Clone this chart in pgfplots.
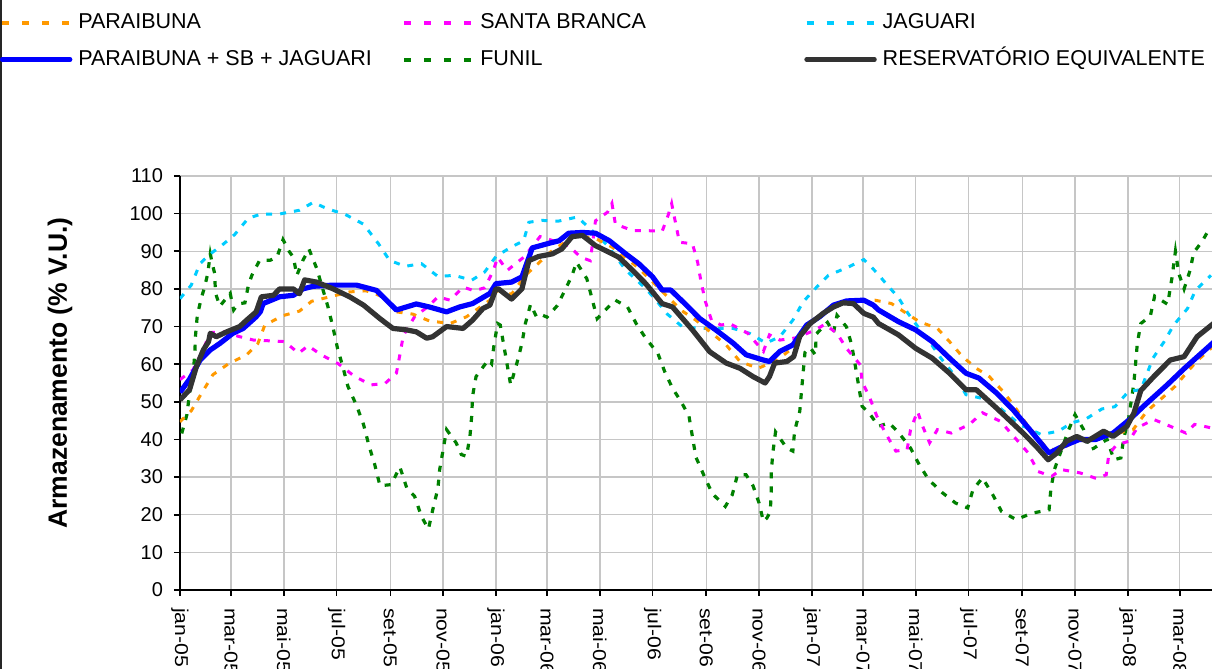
\documentclass[border=0pt]{standalone}
\usepackage{pgfplots}
\pgfplotsset{compat=1.18}
\usepackage{fontspec}
\setmainfont{Liberation Sans}
\usepackage{graphicx}
\definecolor{cOr}{HTML}{FF9900}
\definecolor{cMa}{HTML}{FF00FF}
\definecolor{cCy}{HTML}{00CCFF}
\definecolor{cBl}{HTML}{0000FF}
\definecolor{cGr}{HTML}{008000}
\definecolor{cDk}{HTML}{333333}
\newcommand{\xl}[1]{\scalebox{1.14}[1]{#1}}
\newcommand{\lgt}[1]{\makebox[165pt][l]{\hspace{3pt}#1}}
\begin{document}
\begin{tikzpicture}
\useasboundingbox (0,0) rectangle (606pt,334.5pt);
\clip (0,0) rectangle (606pt,334.5pt);
\draw[black!85, line width=1pt] (0.5pt,334.5pt) -- (0.5pt,0pt);
\begin{axis}[
  at={(90pt,39.5pt)}, anchor=south west,
  scale only axis, width=541pt, height=207pt,
  xmin=0, xmax=1250, ymin=0, ymax=110,
  axis x line=bottom, axis y line=left,
  axis line style={-, black, line width=0.8pt},
  xtick={0,59,120,181,243,304,365,424,485,546,608,669,730,789,850,911,973,1034,1095,1155,1216},
  xticklabels={\xl{jan-05},\xl{mar-05},\xl{mai-05},\xl{jul-05},\xl{set-05},\xl{nov-05},\xl{jan-06},\xl{mar-06},\xl{mai-06},\xl{jul-06},\xl{set-06},\xl{nov-06},\xl{jan-07},\xl{mar-07},\xl{mai-07},\xl{jul-07},\xl{set-07},\xl{nov-07},\xl{jan-08},\xl{mar-08},\xl{mai-08}},
  ytick={0,10,...,110},
  grid=major, major grid style={gray!45, line width=0.7pt},
  tick align=outside, major tick length=3pt,
  tick style={black, line width=0.8pt},
  /pgf/number format/assume math mode=true,
  yticklabel style={font=\fontsize{10pt}{12pt}\selectfont, anchor=east, xshift=-2pt},
  xticklabel style={font=\fontsize{9.3pt}{11pt}\selectfont, rotate=-90, anchor=west},
  xticklabel shift=2.5pt,
  ylabel={Armazenamento (\% V.U.)},
  ylabel style={font=\bfseries\fontsize{13.25pt}{15pt}\selectfont, at={(axis description cs:-0.1109,0.524)}, anchor=center},
  legend columns=3,
  legend style={at={(axis description cs:-0.1664,1.3961)}, anchor=north west, draw=none, fill=none,
    inner sep=0pt, outer sep=0pt, row sep=8pt, column sep=0pt,
    font=\fontsize{10.75pt}{12pt}\selectfont,
    nodes={inner sep=0pt, text height=8pt, text depth=2.5pt}},
  legend image code/.code={\draw[#1] (0pt,0pt) -- (34pt,0pt);},
  clip=true,
]
\addlegendimage{cOr, line width=2pt, dash pattern=on 3.5pt off 6.5pt}
\addlegendentry{\lgt{PARAIBUNA}}
\addlegendimage{cMa, line width=2pt, dash pattern=on 3.5pt off 6.5pt}
\addlegendentry{\lgt{SANTA BRANCA}}
\addlegendimage{cCy, line width=2pt, dash pattern=on 3.5pt off 6.5pt}
\addlegendentry{\lgt{JAGUARI}}
\addlegendimage{cBl, line width=2.2pt, line cap=round}
\addlegendentry{\lgt{PARAIBUNA + SB + JAGUARI}}
\addlegendimage{cGr, line width=2pt, dash pattern=on 3.5pt off 6.5pt}
\addlegendentry{\lgt{FUNIL}}
\addlegendimage{cDk, line width=2.2pt, line cap=round}
\addlegendentry{\lgt{RESERVATÓRIO EQUIVALENTE}}

% FUNIL
\addplot[forget plot, cGr, line width=1.6pt, dash pattern=on 3pt off 4pt] coordinates {
(2,41.6) (8,46.6) (11,52.2) (15,57) (17,62.5) (18,67.8) (20,73) (25,77.9) (28,80.1) (32,84) (35,89.3) (38,86) (40,84.2) (41,78.9) (46,75.4) (58,78.8) (62,74.4) (67,76) (75,76.3) (79,81) (83,83.6) (92,87.6) (104,87.6) (112,88.4) (119,93.1) (126,90) (131,88.4) (135,83.6) (142,87.6) (149,90.6) (158,85.4) (171,75.2) (177,69.5) (182,64.2) (188,59.4) (194,54.1) (204,49) (212,44) (218,38.6) (225,33.3) (231,27.7) (244,28) (254,32.7) (262,27.1) (271,24.9) (279,19.5) (287,16.2) (292,21.3) (298,27.1) (300,32) (304,37.3) (308,42.6) (319,39.1) (325,36) (331,35.5) (335,40.9) (337,46.2) (338,51.5) (342,56.7) (356,61.1) (360,60.1) (363,65.5) (367,70.8) (370,70.4) (374,65.1) (378,59.8) (382,54.5) (389,60.1) (395,65.5) (399,70.8) (405,75.9) (412,72.5) (418,73.1) (424,72.5) (436,75.6) (445,79.8) (453,83.6) (458,87.1) (470,82.7) (476,77.4) (482,72.1) (494,75) (503,77) (517,75.2) (527,70.8) (538,66.9) (552,62.9) (560,58) (569,53.6) (579,50) (588,46.2) (592,40.7) (596,35.3) (605,30.6) (615,25.6) (630,22.2) (638,25.3) (644,30.6) (654,30.6) (662,27.7) (669,23.1) (674,18.2) (678,19.1) (682,20.9) (683,26.2) (683,31.3) (685,36.6) (688,42) (694,40) (701,37.7) (708,36.9) (710,42.2) (716,47.5) (718,52.8) (720,58) (722,63.1) (728,64.4) (734,62.5) (735,68) (748,71.1) (755,68.4) (759,73) (770,69.9) (776,65.1) (780,59.8) (784,54.3) (788,48.8) (796,47.1) (807,43.5) (819,44.4) (830,41.9) (844,37.7) (854,33.3) (865,29.3) (881,25.8) (896,23.1) (910,21.8) (916,26.6) (927,29.8) (939,25.3) (949,20.9) (966,18.7) (984,20.4) (1004,21.3) (1006,26.6) (1010,31.9) (1018,37) (1026,42.2) (1034,46.6) (1044,42.6) (1052,37.3) (1056,37.7) (1071,40) (1079,34.6) (1087,35.1) (1090,40) (1096,45.7) (1102,55) (1106,65.6) (1110,70.8) (1121,72.8) (1126,78.1) (1141,75.9) (1146,83) (1150,90) (1154,84) (1160,80) (1167,85) (1171,89.6) (1181,92.7) (1190,96.3)
};
% JAGUARI
\addplot[forget plot, cCy, line width=1.5pt, dash pattern=on 3pt off 4pt] coordinates {
(0,77.4) (13,81) (23,86.7) (35,89.3) (48,91.5) (63,94.4) (79,98.8) (94,99.9) (115,99.9) (138,100.9) (154,103) (171,101.2) (190,99.9) (212,97.2) (229,92.1) (242,87.6) (260,86) (279,86.7) (298,83.3) (317,83.6) (337,82.3) (352,84.5) (365,88.6) (381,90.9) (397,92.8) (403,97.7) (418,98.2) (437,98) (459,99.1) (478,95.1) (494,91.5) (515,85) (538,80.1) (550,77) (563,73.3) (580,70) (600,69.5) (639,69.5) (658,68.2) (677,65.6) (693,67.3) (708,71.7) (720,76.6) (734,80.1) (749,83.6) (772,85.8) (790,87.8) (805,84.3) (816,81.3) (830,77.7) (841,73.5) (854,69.5) (867,65.6) (879,61.6) (896,56.7) (908,51.9) (925,51) (945,48.8) (970,44) (995,41.3) (1015,42.2) (1030,44.4) (1047,45.5) (1065,48.1) (1080,48.7) (1096,52.8) (1110,53.2) (1124,61.6) (1137,66) (1148,70.4) (1164,74.8) (1173,79.6) (1191,83.6)
};
% SANTA BRANCA
\addplot[forget plot, cMa, line width=1.5pt, dash pattern=on 3pt off 4pt] coordinates {
(0,55.9) (15,58.5) (25,63) (35,68.4) (50,68.6) (69,67.3) (85,66.4) (104,66.2) (121,66) (137,62.9) (148,64.9) (163,62.5) (183,60.1) (202,56.7) (221,54.5) (237,54.9) (250,57.6) (254,62.5) (258,67.6) (271,72.6) (287,75.4) (298,77.9) (312,77) (327,80.5) (340,79.5) (352,80.3) (362,84.9) (367,88.4) (378,84.9) (397,88.4) (416,93.9) (449,91.5) (463,88.4) (474,87.5) (480,98.1) (494,100.4) (499,102.7) (503,97.2) (523,95.5) (538,95.5) (557,95.3) (564,99.6) (568,102.7) (572,98.1) (577,92.4) (592,92) (598,87.1) (602,81.8) (607,76.6) (614,71.7) (625,70.4) (635,70.8) (656,68.2) (674,63.4) (681,67.8) (693,66.4) (712,67) (734,69.1) (745,70.6) (759,68.2) (770,64.2) (786,59.8) (788,55.4) (797,51) (805,46.2) (815,41.7) (827,36.9) (840,37.3) (844,42.6) (852,47.5) (858,43.5) (866,39.1) (875,42.6) (891,41.7) (912,44) (927,47.1) (948,44.8) (980,36.4) (991,31.5) (1007,30.2) (1018,32) (1040,31.1) (1059,29.6) (1070,30.6) (1073,36) (1082,38.6) (1096,39.5) (1106,43.1) (1125,45.3) (1144,43.5) (1162,41.7) (1172,44) (1191,43.1)
};
% PARAIBUNA
\addplot[forget plot, cOr, line width=1.5pt, dash pattern=on 3pt off 4pt] coordinates {
(0,44.7) (13,47.6) (25,52.3) (38,57.2) (56,60.1) (77,62.5) (90,65.5) (98,70.4) (119,72.9) (138,74.1) (152,76.7) (173,77.9) (196,79.2) (215,79.5) (235,77.9) (250,73.9) (269,73.3) (288,71.5) (312,70.8) (331,72.6) (358,77) (367,79.6) (383,78.6) (399,83.6) (430,90.2) (457,94.2) (480,93.4) (500,91) (530,85.5) (565,77.5) (581,74) (596,71.7) (631,65.1) (647,60.7) (668,58.9) (690,61.1) (705,63.8) (725,70) (755,75.5) (780,77) (803,77) (822,76.1) (854,71.3) (875,69.5) (889,66) (904,62) (920,58.9) (935,56.7) (951,52.7) (964,48.8) (977,44.4) (1000,38) (1013,37) (1040,40) (1070,41) (1101,42.6) (1117,47.5) (1137,51.5) (1150,54.2) (1166,58.6) (1179,61.7) (1195,65)
};
% PARAIBUNA + SB + JAGUARI
\addplot[forget plot, cBl, line width=2.6pt, line join=round] coordinates {
(0,52.5) (11,56) (23,61) (35,63.8) (46,65.5) (61,68.2) (73,69.5) (88,72.6) (93,74) (96,76.1) (115,77.9) (131,78.3) (142,80) (154,80.7) (177,81) (204,81) (227,79.6) (250,74.4) (273,76) (288,75.2) (308,73.9) (323,75.2) (338,76.1) (358,78.8) (365,81.4) (383,81.8) (395,83.2) (407,90.9) (426,92.1) (438,92.8) (449,94.8) (465,95) (480,94.8) (496,92.8) (515,89.3) (530,86.7) (546,83.2) (557,79.7) (567,79.7) (585,75.7) (600,72.2) (619,69.1) (639,65.6) (654,62.5) (674,61.1) (681,60.7) (693,63.4) (708,65.1) (724,70.4) (739,72.6) (755,75.7) (770,76.8) (790,77) (801,75.7) (807,74.4) (830,71.3) (850,69.1) (869,66) (889,61.6) (908,57.6) (923,56.3) (943,52.4) (962,48) (985,41.7) (1004,36.4) (1020,38.2) (1039,40) (1058,40) (1078,41.7) (1097,45.3) (1113,48.8) (1140,54.4) (1160,58.8) (1195,66)
};
% RESERVATORIO EQUIVALENTE
\addplot[forget plot, cDk, line width=2.6pt, line join=round] coordinates {
(0,50.5) (11,53.2) (19,59.4) (27,63.8) (33,66) (35,68.2) (42,67.3) (54,68.6) (69,70) (77,71.7) (88,73.9) (94,77.9) (108,78.3) (115,80) (131,80) (138,78.7) (144,82.4) (158,81.8) (177,80) (196,77.9) (212,75.7) (231,72.1) (246,69.5) (262,69.1) (273,68.6) (285,66.9) (292,67.3) (308,70) (327,69.5) (338,71.7) (350,74.8) (358,75.7) (365,80) (368,80) (383,77.3) (395,80) (403,87.5) (414,88.6) (430,89.3) (441,90.6) (453,93.9) (465,94.2) (480,91.5) (496,89.7) (507,88.4) (523,84.9) (538,81.4) (557,76.1) (569,75.2) (592,69.1) (612,63.3) (631,60.3) (647,58.9) (662,56.7) (676,55) (681,56.7) (687,60.3) (701,60.7) (709,62) (716,67.4) (728,70.8) (743,73.5) (755,75.2) (766,76.3) (778,76.1) (790,73.5) (801,72.5) (807,70.8) (830,67.8) (850,64.2) (869,61.6) (889,57.6) (908,53.2) (920,53.2) (943,48.4) (974,41.7) (989,38.2) (1003,34.6) (1013,36.4) (1024,39.5) (1036,40.8) (1048,39.5) (1067,42.2) (1078,40.8) (1094,43.5) (1102,47) (1110,53) (1125,56.7) (1144,61.1) (1160,62) (1175,67.3) (1195,71)
};
\end{axis}
\end{tikzpicture}
\end{document}
